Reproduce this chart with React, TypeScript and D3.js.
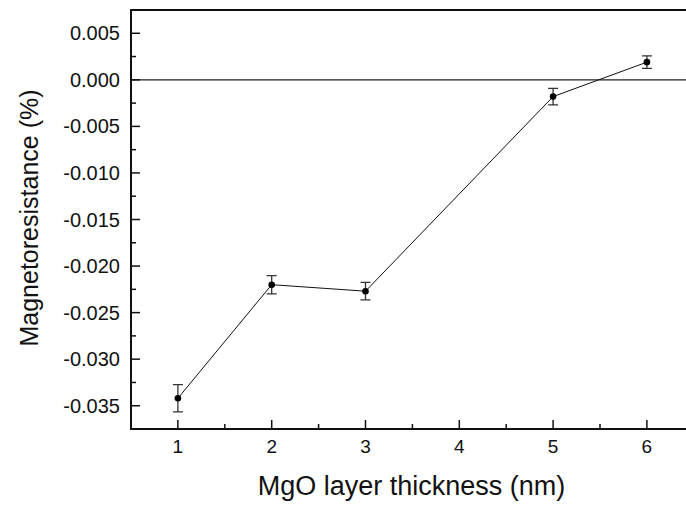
import { useRef, useEffect } from "react";
import * as d3 from "d3";

const thickness = [1, 2, 3, 5, 6];
const mr = [-0.0342, -0.022, -0.0227, -0.0018, 0.0019];
const mrErr = [0.00146, 0.00098, 0.00094, 0.00088, 0.00068];
const xTicks = [1, 2, 3, 4, 5, 6];
const yTicks = [0.005, 0, -0.005, -0.01, -0.015, -0.02, -0.025, -0.03, -0.035];

const W = 686;
const H = 508;
const FONT = "'Liberation Sans', Arial, Helvetica, sans-serif";

/** MR vs MgO thickness */
const App = () => {
  const ref = useRef<SVGSVGElement | null>(null);

  useEffect(() => {
    const svg = d3.select(ref.current);
    svg.selectAll("*").remove();

    const left = 131;
    const top = 10;
    const bottom = 429;
    const x = d3.scaleLinear().domain([0.5, 6.5]).range([left, left + 6 * 93.8]);
    const y = d3.scaleLinear().domain([-0.0375, 0.0075]).range([bottom, top]);

    // frame (right side falls outside the picture)
    svg
      .append("path")
      .attr("d", `M ${x(6.5)},${top} H ${left} V ${bottom} H ${x(6.5)}`)
      .attr("fill", "none")
      .attr("stroke", "#111")
      .attr("stroke-width", 2);

    // zero line
    svg
      .append("line")
      .attr("x1", left)
      .attr("x2", W)
      .attr("y1", y(0))
      .attr("y2", y(0))
      .attr("stroke", "#222")
      .attr("stroke-width", 1.2);

    // x ticks (inward)
    const xMinor = d3.range(1.5, 6.5, 1);
    svg
      .append("g")
      .selectAll("line")
      .data(xTicks)
      .join("line")
      .attr("x1", (d) => x(d))
      .attr("x2", (d) => x(d))
      .attr("y1", bottom)
      .attr("y2", bottom - 9)
      .attr("stroke", "#111")
      .attr("stroke-width", 1.5);
    svg
      .append("g")
      .selectAll("line")
      .data(xMinor)
      .join("line")
      .attr("x1", (d) => x(d))
      .attr("x2", (d) => x(d))
      .attr("y1", bottom)
      .attr("y2", bottom - 5)
      .attr("stroke", "#111")
      .attr("stroke-width", 1.5);
    svg
      .append("g")
      .selectAll("text")
      .data(xTicks)
      .join("text")
      .attr("x", (d) => x(d))
      .attr("y", 453)
      .attr("text-anchor", "middle")
      .attr("font-family", FONT)
      .attr("font-size", 19)
      .attr("fill", "#111")
      .text((d) => d);

    // y ticks (inward)
    const yMinor = d3
      .range(-0.0375, 0.0075, 0.0025)
      .map((v) => +v.toFixed(4))
      .filter((v) => !yTicks.includes(v) && v > -0.0375);
    svg
      .append("g")
      .selectAll("line")
      .data(yTicks)
      .join("line")
      .attr("x1", left)
      .attr("x2", left + 9)
      .attr("y1", (d) => y(d))
      .attr("y2", (d) => y(d))
      .attr("stroke", "#111")
      .attr("stroke-width", 1.5);
    svg
      .append("g")
      .selectAll("line")
      .data(yMinor)
      .join("line")
      .attr("x1", left)
      .attr("x2", left + 5)
      .attr("y1", (d) => y(d))
      .attr("y2", (d) => y(d))
      .attr("stroke", "#111")
      .attr("stroke-width", 1.5);
    svg
      .append("g")
      .selectAll("text")
      .data(yTicks)
      .join("text")
      .attr("x", 120)
      .attr("y", (d) => y(d) + 7)
      .attr("text-anchor", "end")
      .attr("font-family", FONT)
      .attr("font-size", 20)
      .attr("fill", "#111")
      .text((d) => d3.format(".3f")(d).replace("−", "-"));

    // data line
    const pts = thickness.map((t, i) => [t, mr[i]] as [number, number]);
    const line = d3
      .line<[number, number]>()
      .x((d) => x(d[0]))
      .y((d) => y(d[1]));
    svg
      .append("path")
      .attr("d", line(pts))
      .attr("fill", "none")
      .attr("stroke", "#111")
      .attr("stroke-width", 1);

    // error bars
    const eb = svg.append("g").attr("stroke", "#333").attr("stroke-width", 1.3);
    thickness.forEach((t, i) => {
      const cx = x(t);
      const y1 = y(mr[i] + mrErr[i]);
      const y2 = y(mr[i] - mrErr[i]);
      eb.append("path").attr(
        "d",
        `M ${cx},${y1} V ${y2} M ${cx - 5},${y1} H ${cx + 5} M ${cx - 5},${y2} H ${cx + 5}`
      );
    });

    // points
    svg
      .append("g")
      .selectAll("circle")
      .data(pts)
      .join("circle")
      .attr("cx", (d) => x(d[0]))
      .attr("cy", (d) => y(d[1]))
      .attr("r", 3.3)
      .attr("fill", "#000");

    // axis titles
    svg
      .append("text")
      .attr("x", (255 + 568) / 2)
      .attr("y", 495)
      .attr("text-anchor", "middle")
      .attr("font-family", FONT)
      .attr("font-size", 27)
      .attr("fill", "#111")
      .text("MgO layer thickness (nm)");
    svg
      .append("text")
      .attr("transform", "translate(38,218) rotate(-90)")
      .attr("text-anchor", "middle")
      .attr("font-family", FONT)
      .attr("font-size", 25)
      .attr("fill", "#111")
      .text("Magnetoresistance (%)");
  }, []);

  return (
    <svg
      ref={ref}
      width={W}
      height={H}
      style={{ position: "absolute", left: 0, top: 0, background: "#fff" }}
    />
  );
};

export default App;
